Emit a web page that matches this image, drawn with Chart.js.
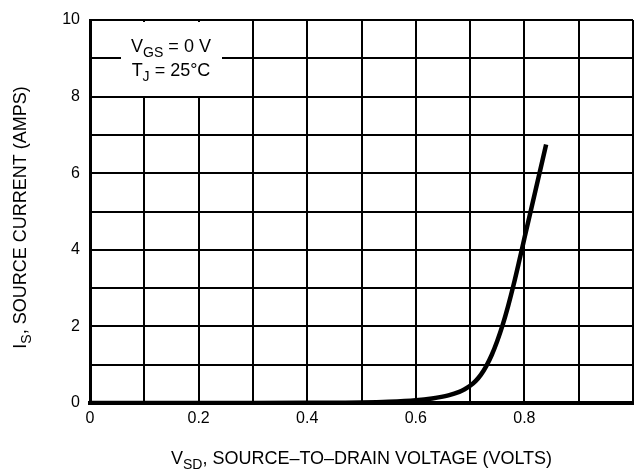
<!DOCTYPE html>
<html>
<head>
<meta charset="utf-8">
<script src="https://cdn.jsdelivr.net/npm/chart.js@4.4.1/dist/chart.umd.min.js"></script>
<style>
  html, body { margin: 0; padding: 0; background: #fff; overflow: hidden; }
  canvas { display: block; }
</style>
</head>
<body>
<canvas id="chart" width="639" height="473"></canvas>
<script>
// source-to-drain diode forward curve
const vsd = [0, 0.1, 0.2, 0.3, 0.4, 0.5, 0.55, 0.6, 0.63, 0.66, 0.68, 0.69, 0.7, 0.71, 0.72, 0.73, 0.74, 0.75, 0.76, 0.77, 0.78, 0.79, 0.8, 0.82, 0.84]
const isCurrent = [0, 0, 0, 0, 0.004, 0.012, 0.03, 0.07, 0.12, 0.2, 0.29, 0.36, 0.45, 0.57, 0.74, 0.97, 1.26, 1.62, 2.04, 2.53, 3.08, 3.68, 4.3, 5.52, 6.75]

const xTickLabels = ['0', '0.2', '0.4', '0.6', '0.8']
const yTickLabels = ['0', '2', '4', '6', '8', '10']

const FONT = '"Liberation Sans", Arial, sans-serif'

// draws text runs, some as subscripts
function drawRuns(ctx, runs, x, y, size, align) {
    const widths = runs.map(r => {
        ctx.font = (r.sub ? size * 0.78 : size) + 'px ' + FONT
        return ctx.measureText(r.t).width
    })
    const total = widths.reduce((a, b) => a + b, 0)
    let cx = align === 'center' ? x - total / 2 : x
    ctx.textAlign = 'left'
    ctx.textBaseline = 'alphabetic'
    runs.forEach((r, i) => {
        ctx.font = (r.sub ? size * 0.78 : size) + 'px ' + FONT
        ctx.fillText(r.t, cx, r.sub ? y + size * 0.28 : y)
        cx += widths[i]
    })
}

const labelsPlugin = {
    id: 'labels',
    beforeDatasetsDraw(chart) {
        const ctx = chart.ctx
        const a = chart.chartArea
        ctx.save()
        // conditions box over the grid
        ctx.fillStyle = '#fff'
        ctx.fillRect(121, a.top + 2, 101, 74)
        ctx.fillStyle = '#000'
        drawRuns(ctx, [{ t: 'V' }, { t: 'GS', sub: true }, { t: ' = 0 V' }], 171, 52, 18, 'center')
        drawRuns(ctx, [{ t: 'T' }, { t: 'J', sub: true }, { t: ' = 25°C' }], 171, 76, 18, 'center')
        ctx.restore()
    },
    afterDraw(chart) {
        const ctx = chart.ctx
        const a = chart.chartArea
        ctx.save()
        ctx.fillStyle = '#000'
        drawRuns(ctx, [{ t: 'V' }, { t: 'SD', sub: true }, { t: ', SOURCE\u2013TO\u2013DRAIN VOLTAGE (VOLTS)' }],
            (a.left + a.right) / 2, 464, 18, 'center')
        ctx.translate(26, (a.top + a.bottom) / 2 + 6)
        ctx.rotate(-Math.PI / 2)
        drawRuns(ctx, [{ t: 'I' }, { t: 'S', sub: true }, { t: ', SOURCE CURRENT (AMPS)' }], 0, 0, 18, 'center')
        ctx.restore()
    }
}

new Chart(document.getElementById('chart'), {
    type: 'line',
    data: {
        datasets: [{
            data: vsd.map((v, i) => ({ x: v, y: isCurrent[i] })),
            borderColor: '#000',
            borderWidth: 4.5,
            pointRadius: 0,
            cubicInterpolationMode: 'monotone',
            fill: false
        }]
    },
    options: {
        responsive: false,
        animation: false,
        layout: { padding: { left: 0, right: 2, top: 20, bottom: 0 } },
        plugins: { legend: { display: false }, tooltip: { enabled: false } },
        scales: {
            x: {
                type: 'linear',
                min: 0,
                max: 1,
                afterFit(s) { s.height = 70 },
                grid: { color: '#000', lineWidth: 2, drawTicks: false },
                border: { color: '#000', width: 4 },
                ticks: {
                    stepSize: 0.1,
                    padding: 6,
                    color: '#000',
                    font: { family: FONT, size: 16 },
                    autoSkip: false,
                    maxRotation: 0,
                    callback(v) {
                        const k = Math.round(v * 10)
                        return k % 2 === 0 && k < 10 ? xTickLabels[k / 2] : ''
                    }
                }
            },
            y: {
                min: 0,
                max: 10,
                afterFit(s) { s.width = 90 },
                grid: { color: '#000', lineWidth: 2, drawTicks: false },
                border: { color: '#000', width: 3 },
                ticks: {
                    stepSize: 1,
                    padding: 10,
                    color: '#000',
                    font: { family: FONT, size: 16 },
                    autoSkip: false,
                    callback(v) {
                        return v % 2 === 0 ? yTickLabels[v / 2] : ''
                    }
                }
            }
        }
    },
    plugins: [labelsPlugin]
})
</script>
</body>
</html>
